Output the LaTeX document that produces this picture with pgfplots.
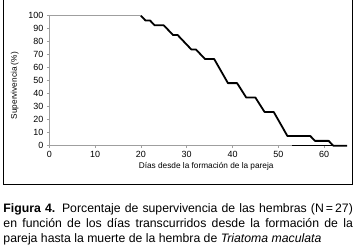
\documentclass[border=0pt]{standalone}
\usepackage{fontspec}
\setmainfont{Liberation Sans}
\usepackage{pgfplots}
\pgfplotsset{compat=1.18}
\begin{document}
\begin{tikzpicture}[x=1bp,y=1bp]
\useasboundingbox (0,0) rectangle (356,247);
\draw[line width=1bp] (3.3,247) -- (3.3,62) -- (352.7,62) -- (352.7,247);
\begin{axis}[
  at={(49.3bp,101.3bp)}, anchor=south west,
  scale only axis, width=297.7bp, height=130bp,
  xmin=0, xmax=65, ymin=0, ymax=100,
  axis x line=bottom, axis y line=left,
  axis line style={-, gray!75, line width=0.9bp},
  xtick={0,10,...,60}, ytick={0,10,...,100},
  tick style={gray!75, line width=0.6bp},
  tick align=outside, major tick length=2.5bp,
  clip=false,
  /pgf/number format/assume math mode=true,
  ticklabel style={font=\fontsize{9}{10}\selectfont},
  xticklabel style={yshift=0.5bp},
  xlabel={Días desde la formación de la pareja},
  ylabel={Supervivencia (\%)},
  label style={font=\fontsize{8.3}{9}\selectfont},
  xlabel style={yshift=1.5bp, xshift=8bp},
  ylabel style={yshift=3bp, xshift=-5bp},
]
\addplot[gray!75, line width=0.9bp] coordinates {(0,100)(20,100)};
\addplot[black, line width=0.9bp] coordinates {(53,0)(65,0)};
\addplot[black, line width=1.8bp, line join=round] coordinates {
(20,100)(21,96.30)(22,96.30)(23,92.59)(25,92.59)(27,85.19)(28,85.19)
(31,74.07)(32,74.07)(34,66.67)(36,66.67)(39,48.15)(41,48.15)
(43,37.04)(45,37.04)(47,25.93)(49,25.93)(52,7.41)(57,7.41)
(58,3.70)(61,3.70)(62,0)(65,0)};
\end{axis}
\node[anchor=base west, inner sep=0pt] at (3.3,35) {\parbox[t]{349.4bp}{\fontsize{12.3}{15.5}\selectfont
\textbf{Figura 4.} Porcentaje de supervivencia de las hembras (N\,=\,27)\linebreak
en función de los días transcurridos desde la formación de la\linebreak
pareja hasta la muerte de la hembra de \textit{Triatoma maculata}}};
\end{tikzpicture}
\end{document}
